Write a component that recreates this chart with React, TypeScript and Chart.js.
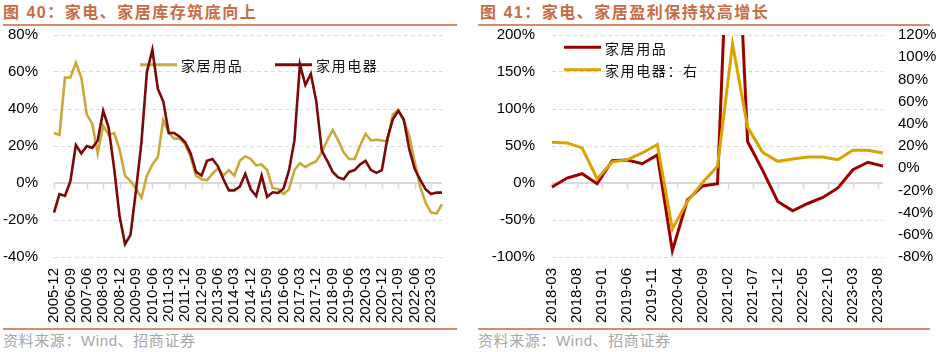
import React, { useEffect, useRef } from "react";
import { Chart, registerables } from "chart.js";
Chart.register(...registerables);

// ---------- 图 40 data (quarterly) ----------
const invQuarters = [
  "2005-12",
  "2006-03","2006-06","2006-09","2006-12",
  "2007-03","2007-06","2007-09","2007-12",
  "2008-03","2008-06","2008-09","2008-12",
  "2009-03","2009-06","2009-09","2009-12",
  "2010-03","2010-06","2010-09","2010-12",
  "2011-03","2011-06","2011-09","2011-12",
  "2012-03","2012-06","2012-09","2012-12",
  "2013-03","2013-06","2013-09","2013-12",
  "2014-03","2014-06","2014-09","2014-12",
  "2015-03","2015-06","2015-09","2015-12",
  "2016-03","2016-06","2016-09","2016-12",
  "2017-03","2017-06","2017-09","2017-12",
  "2018-03","2018-06","2018-09","2018-12",
  "2019-03","2019-06","2019-09","2019-12",
  "2020-03","2020-06","2020-09","2020-12",
  "2021-03","2021-06","2021-09","2021-12",
  "2022-03","2022-06","2022-09","2022-12",
  "2023-03","2023-06","2023-09",
];
const invFurniture = [
  27, 26, 57, 57, 65, 57, 37, 32, 16, 31,
  26, 27, 18, 4, 1, -3, -8, 4, 10, 14,
  34, 27, 24, 24, 21, 14, 4, 2, 1.5, 5,
  8, 4, 7, 4, 12, 14.5, 13, 9.5, 10, 7,
  -2.7, -3.4, -6, -3.4, 7, 10.7, 8.6, 10.4, 11.8, 16.6,
  23, 28.6, 23, 16.6, 13, 13, 20, 26.5, 23, 23.4,
  23, 22.5, 37, 39.5, 33.6, 25.6, 11.3, -2, -10.7, -16,
  -16.5, -11.5,
];
const invAppliance = [
  -16, -6, -7, 1, 20.5, 16, 20, 19, 23, 39,
  30, 8, -18, -33, -28, -4, 22, 60, 72, 51,
  44, 27, 27, 25, 22, 16, 6, 4, 12, 13,
  9, 2, -4, -4, -2, 5, -3.4, -7, 4, -7.5,
  -5, -5.4, -3, 6.8, 23, 64, 53, 59, 44, 17.5,
  12, 6, 3, 2, 6, 7, 10, 12, 7, 5.5,
  7, 24, 34.5, 39, 34.5, 18.4, 7.7, 1.8, -3.4, -6,
  -5.2, -5.2,
];

// ---------- 图 41 data ----------
const profitMonths = [
  "2018-03","2018-04","2018-05","2018-06","2018-07","2018-08","2018-09","2018-10","2018-11","2018-12",
  "2019-01","2019-02","2019-03","2019-04","2019-05","2019-06","2019-07","2019-08","2019-09","2019-10","2019-11","2019-12",
  "2020-01","2020-02","2020-03","2020-04","2020-05","2020-06","2020-07","2020-08","2020-09","2020-10","2020-11","2020-12",
  "2021-01","2021-02","2021-03","2021-04","2021-05","2021-06","2021-07","2021-08","2021-09","2021-10","2021-11","2021-12",
  "2022-01","2022-02","2022-03","2022-04","2022-05","2022-06","2022-07","2022-08","2022-09","2022-10","2022-11","2022-12",
  "2023-01","2023-02","2023-03","2023-04","2023-05","2023-06","2023-07","2023-08","2023-09",
];
const profitQuarters = [
  "2018-03","2018-06","2018-09","2018-12",
  "2019-03","2019-06","2019-09","2019-12",
  "2020-03","2020-06","2020-09","2020-12",
  "2021-03","2021-06","2021-09","2021-12",
  "2022-03","2022-06","2022-09","2022-12",
  "2023-03","2023-06","2023-09",
];
const profitFurniture = [
  -5.4, 6.7, 12.5, -1,
  30, 31, 26, 38,
  -91.5, -23, -4, -1,
  500, 56, 17, -25,
  -37.5, -27.7, -19.6, -6.7,
  17.9, 28, 22.8,
];
const profitAppliance = [
  23.4, 22.8, 18.3, -9.5,
  5.6, 7.7, 13.7, 21.3,
  -54.8, -30, -13, 1.7,
  111.8, 37, 14.3, 6.2,
  8.3, 10.1, 10.1, 7.7,
  16.1, 16.1, 13.7,
];

const GRID = "#D9D9D9";
const TICK_FONT = { family: "'Liberation Sans', Arial, sans-serif", size: 15 };

const zeroLinePlugin = {
  id: "zeroLine",
  beforeDatasetsDraw(chart: any, _args: any, opts: any) {
    const { ctx, chartArea } = chart;
    const ys = chart.scales[opts.axis || "y"];
    const xs = chart.scales.x;
    const y0 = ys.getPixelForValue(0);
    ctx.save();
    ctx.strokeStyle = GRID;
    ctx.lineWidth = 2;
    ctx.beginPath();
    ctx.moveTo(chartArea.left, y0);
    ctx.lineTo(chartArea.right, y0);
    ctx.stroke();
    ctx.lineWidth = 1.5;
    xs.ticks.forEach((t: any, i: number) => {
      if (!t.label) return;
      const x = Math.round(xs.getPixelForTick(i)) + 0.5;
      ctx.beginPath();
      ctx.moveTo(x, y0);
      ctx.lineTo(x, y0 + 6);
      ctx.stroke();
    });
    ctx.restore();
  },
};

const legendPlugin = {
  id: "lineLegend",
  beforeDatasetsDraw(chart: any, _args: any, opts: any) {
    const ctx = chart.ctx;
    ctx.save();
    ctx.font = "14px 'Noto Sans CJK SC', sans-serif";
    (ctx as any).letterSpacing = "1.6px";
    ctx.textBaseline = "middle";
    ctx.textAlign = "left";
    (opts.items || []).forEach((it: any) => {
      const ds = chart.data.datasets[it.ds];
      ctx.strokeStyle = ds.borderColor;
      ctx.lineWidth = 3;
      ctx.beginPath();
      ctx.moveTo(it.x, it.y);
      ctx.lineTo(it.x + 37, it.y);
      ctx.stroke();
      ctx.fillStyle = "#111";
      ctx.fillText(ds.label + (it.suffix || ""), it.x + 41, it.y + 1);
    });
    ctx.restore();
  },
};

const noVertPadding = (s: any, w: number) => {
  s.width = w;
  s.paddingTop = 0;
  s.paddingBottom = 0;
};

function InventoryChart() {
  const ref = useRef<HTMLCanvasElement>(null);
  useEffect(() => {
    const chart = new Chart(ref.current!, {
      type: "line",
      data: {
        labels: invQuarters,
        datasets: [
          {
            label: "家用电器",
            data: invAppliance,
            borderColor: "#7A0A0A",
            borderWidth: 2.6,
            pointRadius: 0,
            tension: 0,
            order: 0,
          },
          {
            label: "家居用品",
            data: invFurniture,
            borderColor: "#C9A83C",
            borderWidth: 2.6,
            pointRadius: 0,
            tension: 0,
            order: 1,
          },
        ],
      },
      options: {
        responsive: false,
        animation: false,
        layout: { padding: { top: 7, right: 20, left: 0, bottom: 0 } },
        plugins: {
          legend: { display: false },
          tooltip: { enabled: false },
          zeroLine: { axis: "y" },
          lineLegend: {
            items: [
              { ds: 1, x: 140, y: 36.7 },
              { ds: 0, x: 275, y: 36.7 },
            ],
          },
        } as any,
        scales: {
          x: {
            type: "category",
            offset: false,
            grid: { display: false, drawTicks: false },
            border: { display: false },
            ticks: {
              autoSkip: false,
              minRotation: 90,
              maxRotation: 90,
              padding: 11,
              color: "#000",
              font: TICK_FONT,
              callback: function (this: any, v: any, i: number) {
                return i % 3 === 0 ? this.getLabelForValue(v) : "";
              },
            },
            afterFit: (s: any) => {
              s.height = 71;
              s.paddingLeft = 0;
              s.paddingRight = 0;
            },
          },
          y: {
            min: -40,
            max: 80,
            grid: { color: GRID, lineWidth: 1, drawTicks: false },
            border: { display: false, dash: [4, 3] },
            ticks: {
              stepSize: 20,
              autoSkip: false,
              padding: 16,
              color: "#000",
              font: TICK_FONT,
              callback: (v: any) => v + "%",
            },
            afterFit: (s: any) => noVertPadding(s, 54),
          },
        },
      },
      plugins: [zeroLinePlugin, legendPlugin],
    });
    return () => chart.destroy();
  }, []);
  return <canvas ref={ref} width={462} height={300} style={{ width: 462, height: 300, display: "block" }} />;
}

function ProfitChart() {
  const ref = useRef<HTMLCanvasElement>(null);
  useEffect(() => {
    const chart = new Chart(ref.current!, {
      type: "line",
      data: {
        labels: profitMonths,
        datasets: [
          {
            label: "家用电器",
            data: profitQuarters.map((q, i) => ({ x: q, y: profitAppliance[i] })),
            borderColor: "#D9A400",
            borderWidth: 3,
            pointRadius: 0,
            tension: 0,
            yAxisID: "y1",
            order: 0,
          },
          {
            label: "家居用品",
            data: profitQuarters.map((q, i) => ({ x: q, y: profitFurniture[i] })),
            borderColor: "#9E0000",
            borderWidth: 3,
            pointRadius: 0,
            tension: 0,
            yAxisID: "y",
            order: 1,
          },
        ],
      },
      options: {
        responsive: false,
        animation: false,
        layout: { padding: { top: 7, right: 0, left: 0, bottom: 0 } },
        plugins: {
          legend: { display: false },
          tooltip: { enabled: false },
          zeroLine: { axis: "y" },
          lineLegend: {
            items: [
              { ds: 1, x: 99, y: 19.3 },
              { ds: 0, x: 99, y: 41.7, suffix: "：右" },
            ],
          },
        } as any,
        scales: {
          x: {
            type: "category",
            offset: false,
            grid: { display: false, drawTicks: false },
            border: { display: false },
            ticks: {
              autoSkip: false,
              minRotation: 90,
              maxRotation: 90,
              padding: 11,
              color: "#000",
              font: TICK_FONT,
              callback: function (this: any, v: any, i: number) {
                return i % 5 === 0 ? this.getLabelForValue(v) : "";
              },
            },
            afterFit: (s: any) => {
              s.height = 71;
              s.paddingLeft = 0;
              s.paddingRight = 0;
            },
          },
          y: {
            position: "left",
            min: -100,
            max: 200,
            grid: { color: GRID, lineWidth: 1, drawTicks: false },
            border: { display: false, dash: [4, 3] },
            ticks: {
              stepSize: 50,
              autoSkip: false,
              padding: 17,
              color: "#000",
              font: TICK_FONT,
              callback: (v: any) => v + "%",
            },
            afterFit: (s: any) => noVertPadding(s, 87),
          },
          y1: {
            position: "right",
            min: -80,
            max: 120,
            grid: { display: false, drawTicks: false },
            border: { display: false },
            ticks: {
              stepSize: 20,
              autoSkip: false,
              padding: 15,
              color: "#000",
              font: TICK_FONT,
              callback: (v: any) => v + "%",
            },
            afterFit: (s: any) => noVertPadding(s, 54),
          },
        },
      },
      plugins: [zeroLinePlugin, legendPlugin],
    });
    return () => chart.destroy();
  }, []);
  return <canvas ref={ref} width={472} height={300} style={{ width: 472, height: 300, display: "block" }} />;
}

const titleStyle: React.CSSProperties = {
  position: "absolute",
  top: 4,
  fontFamily: "'Liberation Sans', 'Noto Sans CJK SC', sans-serif",
  fontWeight: 700,
  fontSize: 16,
  lineHeight: "18px",
  letterSpacing: "1.5px",
  color: "#C86C46",
  whiteSpace: "nowrap",
};
const sourceStyle: React.CSSProperties = {
  position: "absolute",
  top: 332,
  fontFamily: "'Liberation Sans', 'Noto Sans CJK SC', sans-serif",
  fontSize: 15,
  lineHeight: "18px",
  letterSpacing: "0.6px",
  color: "#A6A6A6",
  whiteSpace: "nowrap",
};
const ruleStyle: React.CSSProperties = {
  position: "absolute",
  height: 2,
  background: "#D8896A",
};

export default function App() {
  return (
    <div style={{ position: "absolute", left: 0, top: 0, width: 937, height: 352, background: "#fff", overflow: "hidden" }}>
      <div style={{ ...titleStyle, left: 3 }}>图 40：家电、家居库存筑底向上</div>
      <div style={{ ...ruleStyle, left: 3, width: 454, top: 24 }} />
      <div style={{ position: "absolute", left: 0, top: 28 }}>
        <InventoryChart />
      </div>
      <div style={{ ...ruleStyle, left: 3, width: 454, top: 328 }} />
      <div style={{ ...sourceStyle, left: 3 }}>资料来源：Wind、招商证券</div>

      <div style={{ ...titleStyle, left: 480 }}>图 41：家电、家居盈利保持较高增长</div>
      <div style={{ ...ruleStyle, left: 478, width: 452, top: 24 }} />
      <div style={{ position: "absolute", left: 465, top: 28 }}>
        <ProfitChart />
      </div>
      <div style={{ ...ruleStyle, left: 478, width: 452, top: 328 }} />
      <div style={{ ...sourceStyle, left: 478 }}>资料来源：Wind、招商证券</div>
    </div>
  );
}
